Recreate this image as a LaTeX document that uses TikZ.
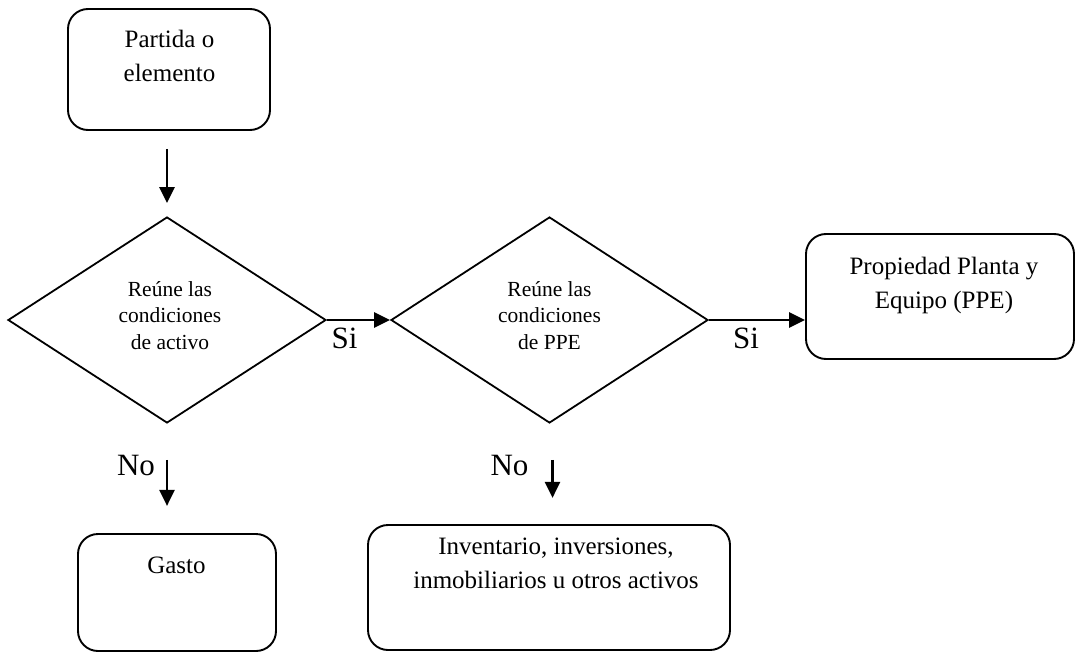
\documentclass[tikz,border=0pt]{standalone}
\usepackage{fontspec}
\setmainfont{Liberation Serif}
\usetikzlibrary{arrows.meta,shapes.geometric}
\begin{document}
\begin{tikzpicture}[x=1pt,y=-1pt,
  box/.style={draw, line width=1.9pt, rounded corners=20pt, inner sep=0pt},
  dia/.style={draw, diamond, line width=1.8pt, inner sep=0pt},
  boxtxt/.style={align=center, anchor=base, inner sep=0pt, font=\fontsize{25}{34}\selectfont},
  diatxt/.style={align=center, anchor=base, inner sep=0pt, font=\fontsize{21.5}{26.5}\selectfont},
  lbl/.style={anchor=base, inner sep=0pt, font=\fontsize{31}{36}\selectfont},
  arr/.style={line width=2.6pt, -{Triangle[length=16pt,width=15pt]}}]
\useasboundingbox (0,0) rectangle (1075,652);

% boxes
\node[box, minimum width=202pt, minimum height=121pt] (b1) at (169,69.5) {};
\node[box, minimum width=268pt, minimum height=125pt] (ppe) at (940,296.5) {};
\node[box, minimum width=198pt, minimum height=117pt] (gasto) at (177,592.5) {};
\node[box, minimum width=362pt, minimum height=125pt] (inv) at (549,587.5) {};

% diamonds
\node[dia, minimum width=318pt, minimum height=206pt] (d1) at (167,320) {};
\node[dia, minimum width=317pt, minimum height=206pt] (d2) at (549.5,320) {};

% texts (anchor base = last line)
\node[boxtxt] (t1) at (169.5,82) {Partida o\\elemento};
\node[diatxt] (t2) at (170,349) {Reúne las\\condiciones\\de activo};
\node[diatxt] (t3) at (549.5,349) {Reúne las\\condiciones\\de PPE};
\node[boxtxt] (t4) at (944,308) {Propiedad Planta y\\Equipo (PPE)};
\node[boxtxt] (t5) at (176.5,573) {Gasto};
\node[boxtxt] (t6) at (556,588) {Inventario, inversiones,\\inmobiliarios u otros activos};

% labels
\node[lbl] (si1) at (344.5,348) {Si};
\node[lbl] (si2) at (746,348) {Si};
\node[lbl] (no1) at (136,475) {No};
\node[lbl] (no2) at (509.5,475) {No};

% connectors
\draw[arr] ([xshift=-2pt,yshift=-18pt]b1.south) -- ([yshift=13pt]d1.north);
\draw[arr] (d1.east) -- (d2.west);
\draw[arr] (d2.east) -- (d2.east -| ppe.west);
\coordinate (n1) at ([yshift=-36pt]d1.south);
\draw[arr] (n1) -- +(0,46);
\coordinate (n2) at ([xshift=3pt,yshift=-36pt]d2.south);
\draw[arr] (n2) -- +(0,38);
\end{tikzpicture}
\end{document}
